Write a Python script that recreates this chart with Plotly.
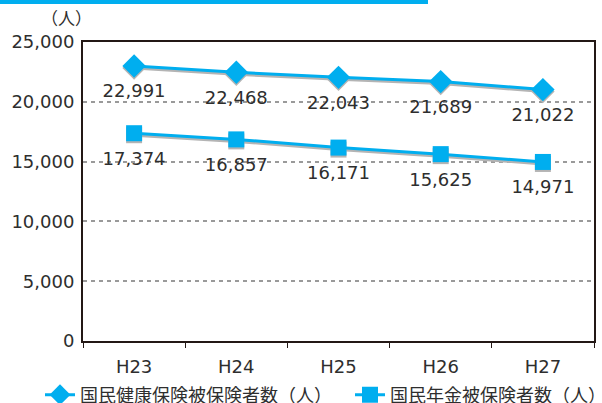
import plotly.graph_objects as go

# Fiscal years (Heisei era)
years = ["H23", "H24", "H25", "H26", "H27"]

# 国民健康保険被保険者数（人）
health_insured = [22991, 22468, 22043, 21689, 21022]
# 国民年金被保険者数（人）
pension_insured = [17374, 16857, 16171, 15625, 14971]

health_name = "国民健康保険被保険者数（人）"
pension_name = "国民年金被保険者数（人）"

y_ticks = [0, 5000, 10000, 15000, 20000, 25000]

CYAN = "#00AEEF"
SHADOW = "#B4B4B4"
TEXT = "#2E2E2E"
FONT = "DejaVu Sans, Noto Sans CJK JP, sans-serif"
CJK = "Noto Sans CJK JP, DejaVu Sans, sans-serif"

# plot area geometry (pixels)
W, H = 602, 403
M_L, M_R, M_T, M_B = 83, 8, 42, 62
plot_w = W - M_L - M_R
plot_h = H - M_T - M_B
y_max = 25000
px_to_val = y_max / plot_h
shadow_dy = 2 * px_to_val


def px_x(px):
    return (px - M_L) / plot_w


def px_y(px):
    return (H - M_B - px) / plot_h


fig = go.Figure()


def add_series(values, symbol, size, name, legend):
    # soft drop shadow beneath the line
    fig.add_trace(go.Scatter(
        x=years, y=[v - shadow_dy for v in values],
        mode="lines+markers",
        line=dict(color=SHADOW, width=3),
        marker=dict(symbol=symbol, size=size, color=SHADOW),
        hoverinfo="skip", showlegend=False,
    ))
    fig.add_trace(go.Scatter(
        x=years, y=values,
        mode="lines+markers",
        name=name, legend=legend,
        line=dict(color=CYAN, width=3),
        marker=dict(symbol=symbol, size=size, color=CYAN),
    ))
    # value labels; the clear spacer marker sets their distance below the point
    fig.add_trace(go.Scatter(
        x=years, y=values,
        mode="markers+text",
        marker=dict(size=27, color="rgba(0,0,0,0)"),
        text=[f"{v:,}" for v in values],
        textposition="bottom center",
        textfont=dict(family=FONT, size=18, color=TEXT),
        hoverinfo="skip", showlegend=False,
    ))


add_series(health_insured, "diamond", 18, health_name, "legend")
add_series(pension_insured, "square", 16, pension_name, "legend2")

legend_common = dict(
    orientation="h", yanchor="middle", xanchor="left",
    font=dict(family=CJK, size=18, color=TEXT),
    itemwidth=30, bgcolor="rgba(0,0,0,0)",
)

fig.update_layout(
    width=W, height=H,
    margin=dict(l=M_L, r=M_R, t=M_T, b=M_B, autoexpand=False),
    paper_bgcolor="white", plot_bgcolor="white",
    font=dict(family=FONT, size=18, color=TEXT),
    showlegend=True,
    legend=dict(x=px_x(40), y=px_y(395), **legend_common),
    legend2=dict(x=px_x(350), y=px_y(395), **legend_common),
    xaxis=dict(
        type="category", range=[-0.5, len(years) - 0.5], showgrid=False,
        showline=True, linecolor="#231815", linewidth=2, mirror=True,
        ticks="outside", ticklen=5, tickwidth=1, tickcolor="#231815",
        tickson="boundaries", ticklabelstandoff=8,
        tickfont=dict(family=FONT, size=18, color=TEXT),
        fixedrange=True,
    ),
    yaxis=dict(
        range=[0, y_max], tickvals=y_ticks, tickformat=",",
        showline=True, linecolor="#231815", linewidth=2, mirror=True,
        ticks="", ticklabelstandoff=3,
        showgrid=True, gridcolor="#9A9A9A", gridwidth=2, griddash="4px,4px",
        zeroline=False,
        tickfont=dict(family=FONT, size=18, color=TEXT),
        fixedrange=True,
    ),
    annotations=[dict(
        text="（人）", xref="paper", yref="paper",
        x=0, y=1, xanchor="right", yanchor="bottom", yshift=10, xshift=11,
        showarrow=False, font=dict(family=CJK, size=17, color=TEXT),
    )],
    shapes=[dict(
        type="line", xref="paper", yref="paper",
        x0=px_x(0), x1=px_x(428),
        y0=px_y(2), y1=px_y(2),
        line=dict(color=CYAN, width=4),
    )],
)

fig.write_html("out.html")
